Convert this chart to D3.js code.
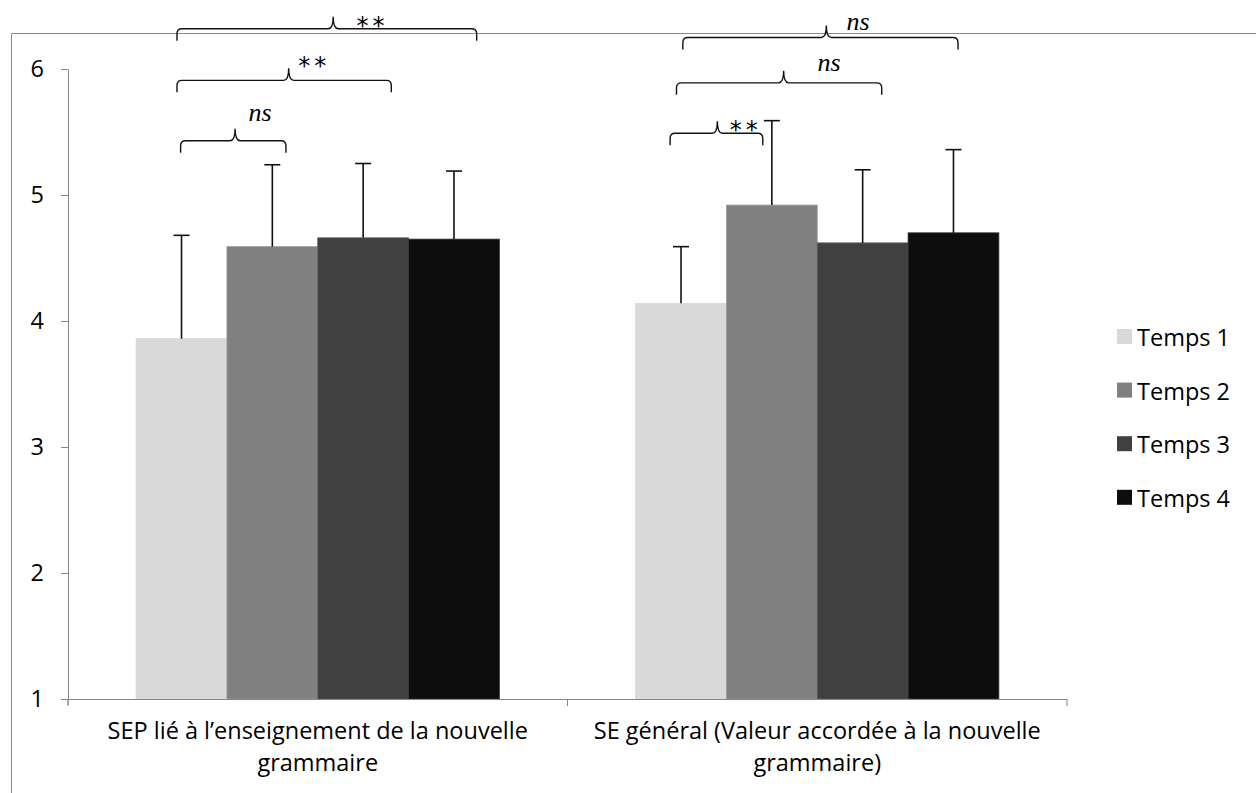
<!DOCTYPE html>
<html><head><meta charset="utf-8">
<script src="https://cdn.jsdelivr.net/npm/d3@7"></script>
<style>
html,body{margin:0;padding:0;background:#fff;}
svg{display:block;}
</style></head>
<body>
<svg id="chart" width="1256" height="793"></svg>
<script>
// ---- data ----
const categories = ["SEP lié à l\u2019enseignement de la nouvelle grammaire", "SE général (Valeur accordée à la nouvelle grammaire)"];
const categoryLines = [["SEP lié à l\u2019enseignement de la nouvelle", "grammaire"], ["SE général (Valeur accordée à la nouvelle", "grammaire)"]];
const series = ["Temps 1", "Temps 2", "Temps 3", "Temps 4"];
const means = [[3.86, 4.59, 4.66, 4.65], [4.14, 4.92, 4.62, 4.70]];
const sds   = [[0.82, 0.65, 0.59, 0.54], [0.45, 0.67, 0.58, 0.66]];
const yTicks = [1, 2, 3, 4, 5, 6];
const colors = ["#d9d9d9", "#808080", "#404040", "#0d0d0d"];
const strokes = ["#d9d9d9", "#9a9a9a", "#5a5a5a", "#3a3a3a"];
// significance brackets in data units: group index, start/end/peak in bar units, line level (value), label offset
const brackets = [
  {g:0, from:0.49, to:1.65, peak:1.09, level:5.43, label:"ns", ldx:0.275, ly:5.63},
  {g:0, from:0.45, to:2.81, peak:1.68, level:5.91, label:"**", ldx:0.26,  ly:6.08},
  {g:0, from:0.45, to:3.75, peak:2.17, level:6.32, label:"**", ldx:0.41,  ly:6.40},
  {g:1, from:0.38, to:1.40, peak:0.90, level:5.49, label:"**", ldx:0.29,  ly:5.57},
  {g:1, from:0.45, to:2.71, peak:1.63, level:5.89, label:"ns", ldx:0.50,  ly:6.03},
  {g:1, from:0.52, to:3.55, peak:2.10, level:6.25, label:"ns", ldx:0.35,  ly:6.35}
];

(function(){
const svg = d3.select("#chart");
const font = "'Open Sans', sans-serif";
const fs = 23.5;
const pl = 68, pr = 1067, pt = 69, pb = 699;

const x0 = d3.scaleBand().domain(categories).range([pl, pr]).paddingInner(0).paddingOuter(0);
const x1 = d3.scaleBand().domain(series).range([0, x0.bandwidth()]).paddingInner(0).paddingOuter(0.75);
const y = d3.scaleLinear().domain([1, 6]).range([pb, pt]);
const bw = x1.bandwidth();
const unit = d3.scaleLinear().domain([0, 1]).range([0, bw]);

// outer frame
svg.append("path").attr("d", `M11.5,793 V33.5 H1256`).attr("fill", "none").attr("stroke", "#8a8a8a").attr("stroke-width", 1);

// bars
const gGroups = svg.selectAll("g.grp").data(categories).enter().append("g")
  .attr("transform", d => `translate(${x0(d)},0)`);
gGroups.each(function(cat, ci){
  const g = d3.select(this);
  g.selectAll("rect").data(series).enter().append("rect")
    .attr("x", s => x1(s)).attr("width", bw)
    .attr("y", (s, si) => y(means[ci][si]))
    .attr("height", (s, si) => y(1) - y(means[ci][si]))
    .attr("fill", (s, si) => colors[si])
    .attr("stroke", (s, si) => strokes[si]).attr("stroke-width", 0.8);
  series.forEach((s, si) => {
    const cx = x1(s) + bw / 2;
    const yt = y(means[ci][si] + sds[ci][si]);
    g.append("line").attr("x1", cx).attr("x2", cx).attr("y1", y(means[ci][si])).attr("y2", yt)
      .attr("stroke", "#111").attr("stroke-width", 1.6);
    g.append("line").attr("x1", cx - 8).attr("x2", cx + 8).attr("y1", yt).attr("y2", yt)
      .attr("stroke", "#111").attr("stroke-width", 1.6);
  });
});

// y axis
const yAxis = d3.axisLeft(y).tickValues(yTicks).tickSize(7).tickSizeOuter(0).tickPadding(17).tickFormat(d3.format("d"));
const ya = svg.append("g").attr("transform", `translate(${pl},0)`).call(yAxis);
ya.select(".domain").attr("stroke", "#868686");
ya.selectAll(".tick line").attr("stroke", "#868686");
ya.selectAll(".tick text").attr("font-family", font).attr("font-size", fs).attr("fill", "#000");
svg.append("line").attr("x1", pl).attr("x2", pl).attr("y1", pb).attr("y2", pb + 6).attr("stroke", "#868686");

// x axis
svg.append("line").attr("x1", pl).attr("x2", pr).attr("y1", pb + 0.5).attr("y2", pb + 0.5).attr("stroke", "#868686");
[pl, x0(categories[1]), pr].forEach(px => {
  svg.append("line").attr("x1", px).attr("x2", px).attr("y1", pb).attr("y2", pb + 7).attr("stroke", "#868686");
});
categories.forEach((c, ci) => {
  const cx = x0(c) + x0.bandwidth() / 2;
  const t = svg.append("text").attr("x", cx).attr("y", 739)
    .attr("text-anchor", "middle").attr("font-family", font).attr("font-size", fs).attr("fill", "#000");
  categoryLines[ci].forEach((ln, li) => {
    t.append("tspan").attr("x", cx).attr("dy", li === 0 ? 0 : 32).text(ln);
  });
});

// brackets
const hook = 12, r = 5;
brackets.forEach(b => {
  const base = x0(categories[b.g]) + x1(series[0]);
  const xa = base + unit(b.from), xb = base + unit(b.to), xp = base + unit(b.peak);
  const yl = y(b.level);
  const d = `M${xa},${yl + hook} V${yl + r} Q${xa},${yl} ${xa + r},${yl} H${xp - r} Q${xp},${yl} ${xp},${yl - hook} ` +
            `Q${xp},${yl} ${xp + r},${yl} H${xb - r} Q${xb},${yl} ${xb},${yl + r} V${yl + hook}`;
  svg.append("path").attr("d", d).attr("fill", "none").attr("stroke", "#111").attr("stroke-width", 1.4);
  const tx = xp + unit(b.ldx);
  const txt = svg.append("text").attr("x", tx).attr("y", y(b.ly)).attr("text-anchor", "middle")
    .attr("dominant-baseline", "central").attr("fill", "#000").text(b.label);
  if (b.label === "ns") {
    txt.attr("font-family", "'Liberation Serif', serif").attr("font-style", "italic").attr("font-size", 26).attr("dy", -3);
  } else {
    txt.attr("font-family", "'DejaVu Sans', sans-serif").attr("font-size", 24).attr("letter-spacing", 4).attr("dx", 2).attr("dy", 7);
  }
});

// legend
const leg = svg.append("g").attr("transform", "translate(1117,329)");
series.forEach((s, i) => {
  const row = leg.append("g").attr("transform", `translate(0,${i * 53.6})`);
  row.append("rect").attr("width", 15).attr("height", 15).attr("fill", colors[i]);
  row.append("text").attr("x", 20).attr("y", 8).attr("dominant-baseline", "central")
    .attr("font-family", font).attr("font-size", fs).attr("fill", "#000").text(s);
});
})();
</script>
</body></html>
